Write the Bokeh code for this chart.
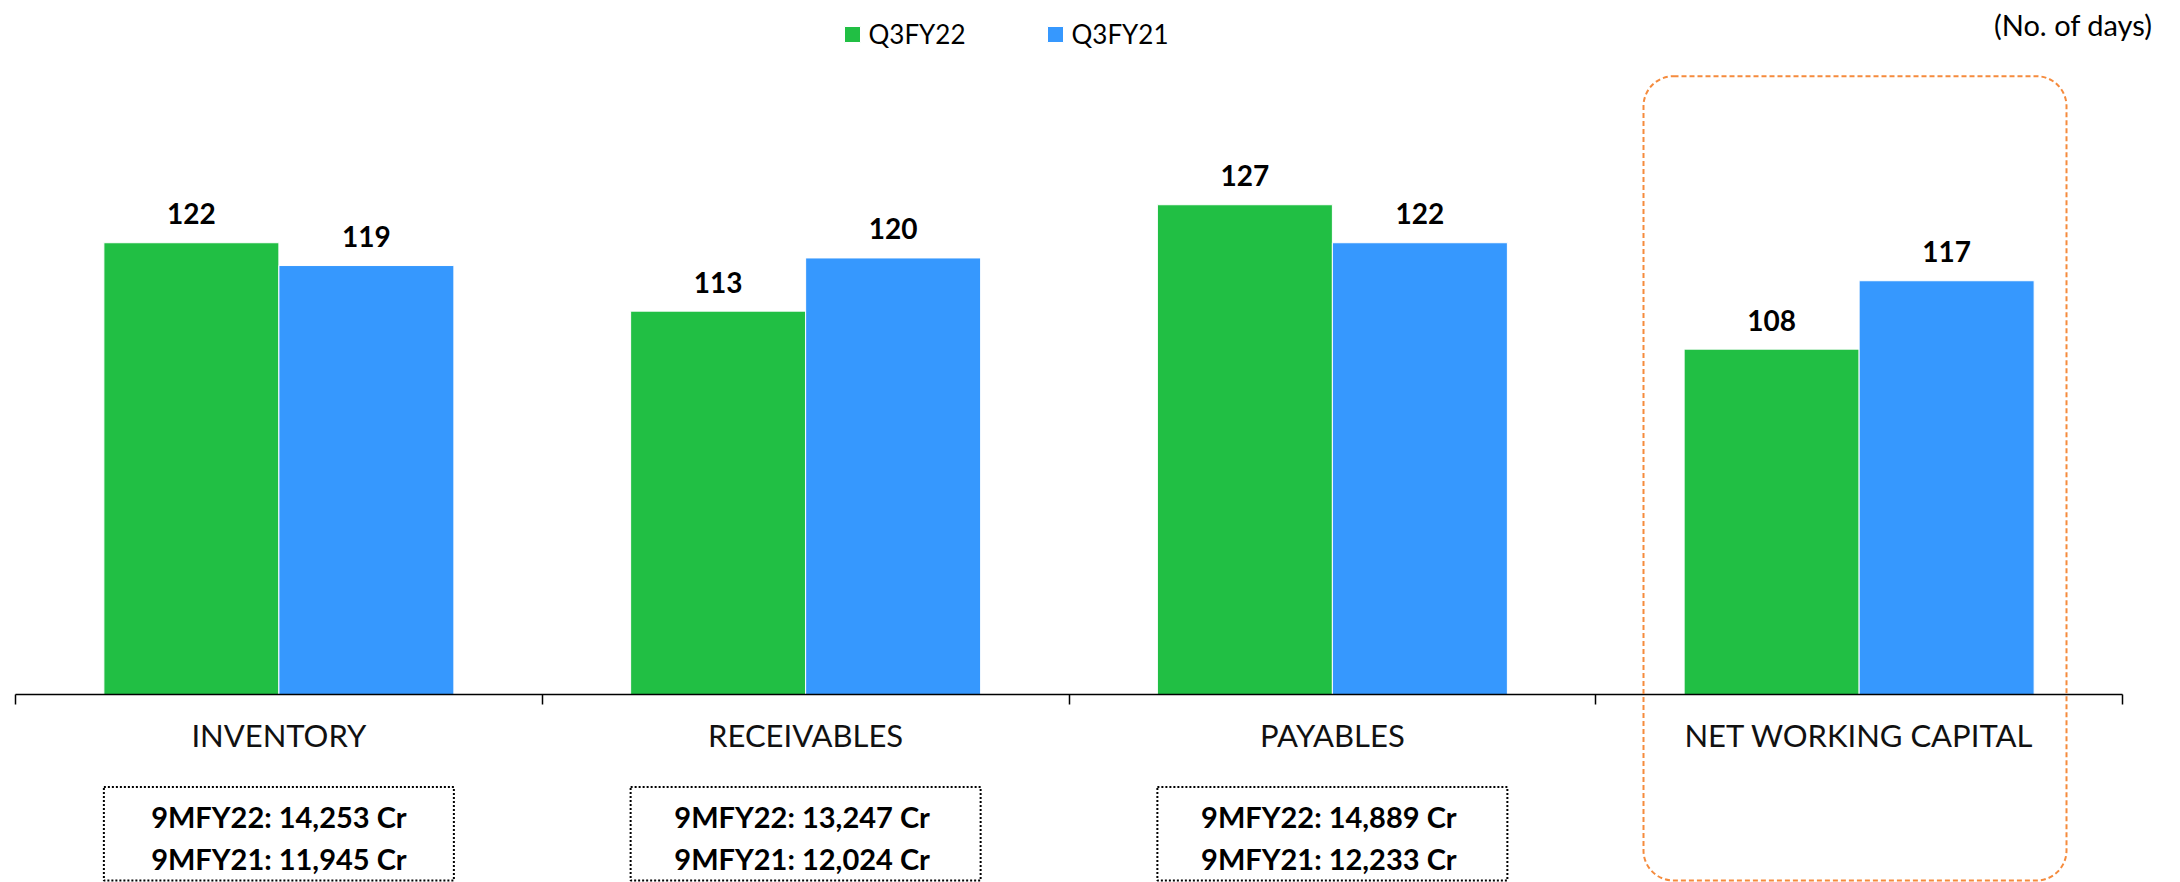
from bokeh.plotting import figure
from bokeh.models import (Range1d, LinearAxis, FixedTicker, ColumnDataSource, BoxAnnotation,
                          Legend, LegendItem, Label)
from bokeh.core.properties import value
from bokeh.embed import file_html
from bokeh.resources import INLINE

# ---------------- data ----------------
categories = ["INVENTORY", "RECEIVABLES", "PAYABLES", "NET WORKING CAPITAL"]
series_names = ["Q3FY22", "Q3FY21"]
q3fy22 = [122, 113, 127, 108]
q3fy21 = [119, 120, 122, 117]
nine_m_fy22 = ["9MFY22: 14,253 Cr", "9MFY22:  13,247 Cr", "9MFY22:  14,889 Cr"]
nine_m_fy21 = ["9MFY21: 11,945 Cr", "9MFY21:  12,024 Cr", "9MFY21:  12,233 Cr"]
unit_note = "(No. of days)"
highlight_category = "NET WORKING CAPITAL"

# ---------------- style / layout ----------------
GREEN = "#21BF44"
BLUE = "#3698FE"
ORANGE = "#F58B3D"
FONT = "Lato"

W, H = 2180, 882
CAT_PX = 526.75          # pixels per category
AXIS_LEFT_PX = 15        # canvas x where first category starts
PX_PER_DAY = 7.6
TEXT_SHIFT = 9           # rendered text sits this much below the requested baseline


def val_at(canvas_y):
    """value on the y scale that sits at a given canvas pixel row"""
    return 118.5 + (268.84 - canvas_y) / PX_PER_DAY


def cat_at(canvas_x):
    return (canvas_x - AXIS_LEFT_PX) / CAT_PX


x_start, x_end = cat_at(0), cat_at(W)
y_start, y_end = val_at(H), val_at(0)
BASE = val_at(694.3)
BAR_W = 175 / CAT_PX

p = figure(width=W, height=H, x_range=Range1d(x_start, x_end), y_range=Range1d(y_start, y_end),
           x_axis_location=None, y_axis_location=None, min_border=0, outline_line_color=None,
           toolbar_location=None, output_backend="svg", background_fill_color="white",
           border_fill_color="white")
p.grid.visible = False

idx = list(range(len(categories)))
src22 = ColumnDataSource(dict(x=[i + 0.5 - BAR_W / 2 for i in idx], top=q3fy22,
                              label=[str(v) for v in q3fy22]))
src21 = ColumnDataSource(dict(x=[i + 0.5 + BAR_W / 2 for i in idx], top=q3fy21,
                              label=[str(v) for v in q3fy21]))

r22 = p.vbar(x="x", top="top", bottom=BASE, width=BAR_W, source=src22,
             fill_color=GREEN, line_color="white", line_width=1)
r21 = p.vbar(x="x", top="top", bottom=BASE, width=BAR_W, source=src21,
             fill_color=BLUE, line_color="white", line_width=1)

for src in (src22, src21):
    p.text(x="x", y="top", text="label", source=src, text_align="center",
           text_baseline="alphabetic", y_offset=-20 - TEXT_SHIFT, text_font=value(FONT),
           text_font_style="bold", text_font_size="28px", text_color="black")

# axis with boundary ticks
bound_ticks = list(range(len(categories) + 1))
tick_axis = LinearAxis(fixed_location=BASE, bounds=(0, len(categories)),
                       ticker=FixedTicker(ticks=bound_ticks),
                       major_label_overrides={t: "" for t in bound_ticks},
                       major_tick_in=0, major_tick_out=10, minor_tick_line_color=None,
                       axis_line_color="black", axis_line_width=1.5,
                       major_tick_line_color="black", major_tick_line_width=1.5)
p.add_layout(tick_axis, "below")

# axis carrying the category names
centers = [i + 0.5 for i in idx]
cat_axis = LinearAxis(fixed_location=BASE, ticker=FixedTicker(ticks=centers),
                      major_label_overrides={c: n for c, n in zip(centers, categories)},
                      axis_line_color=None, major_tick_line_color=None, minor_tick_line_color=None,
                      major_tick_in=0, major_tick_out=0, major_label_standoff=21,
                      major_label_text_font=FONT, major_label_text_font_size="31px",
                      major_label_text_color="#111111")
p.add_layout(cat_axis, "below")

# legend
legend = Legend(items=[LegendItem(label=series_names[0], renderers=[r22]),
                       LegendItem(label=series_names[1], renderers=[r21])],
                orientation="horizontal", location=(841.5, H - 50),
                glyph_width=20, glyph_height=20, label_standoff=7, spacing=66, label_width=110,
                padding=0, margin=0, border_line_color=None, background_fill_alpha=0,
                label_text_font=FONT, label_text_font_size="26px", label_text_color="black")
p.add_layout(legend)

# unit note
p.add_layout(Label(x=cat_at(2152), y=val_at(33.5 - TEXT_SHIFT - 1), text=unit_note,
                   text_align="right", text_baseline="alphabetic", text_font=FONT,
                   text_font_size="29px", text_color="black"))

# dotted boxes with 9M totals
n_box = len(nine_m_fy22)
for i in idx[:n_box]:
    p.add_layout(BoxAnnotation(left=i + 0.5 - BAR_W, right=i + 0.5 + BAR_W,
                               top=val_at(786.5), bottom=val_at(880),
                               fill_color=None, fill_alpha=0, line_color="black",
                               line_alpha=1, line_width=2, line_dash="2 2"))
box_src = ColumnDataSource(dict(x=centers[:n_box], l1=nine_m_fy22, l2=nine_m_fy21))
for col, cy in (("l1", 825), ("l2", 867)):
    p.text(x="x", y=val_at(cy - TEXT_SHIFT), text=col, source=box_src, text_align="center",
           text_baseline="alphabetic", text_font=value(FONT), text_font_style="bold",
           text_font_size="29px", text_color="black")

# highlight around net working capital
hi = categories.index(highlight_category)
p.add_layout(BoxAnnotation(left=cat_at(1643), right=cat_at(2066),
                           top=val_at(75.7), bottom=val_at(880),
                           fill_color=None, fill_alpha=0, line_color=ORANGE, line_alpha=1,
                           line_width=2, line_dash="5 3", border_radius=30))

open("out.html", "w").write(file_html(p, INLINE))
